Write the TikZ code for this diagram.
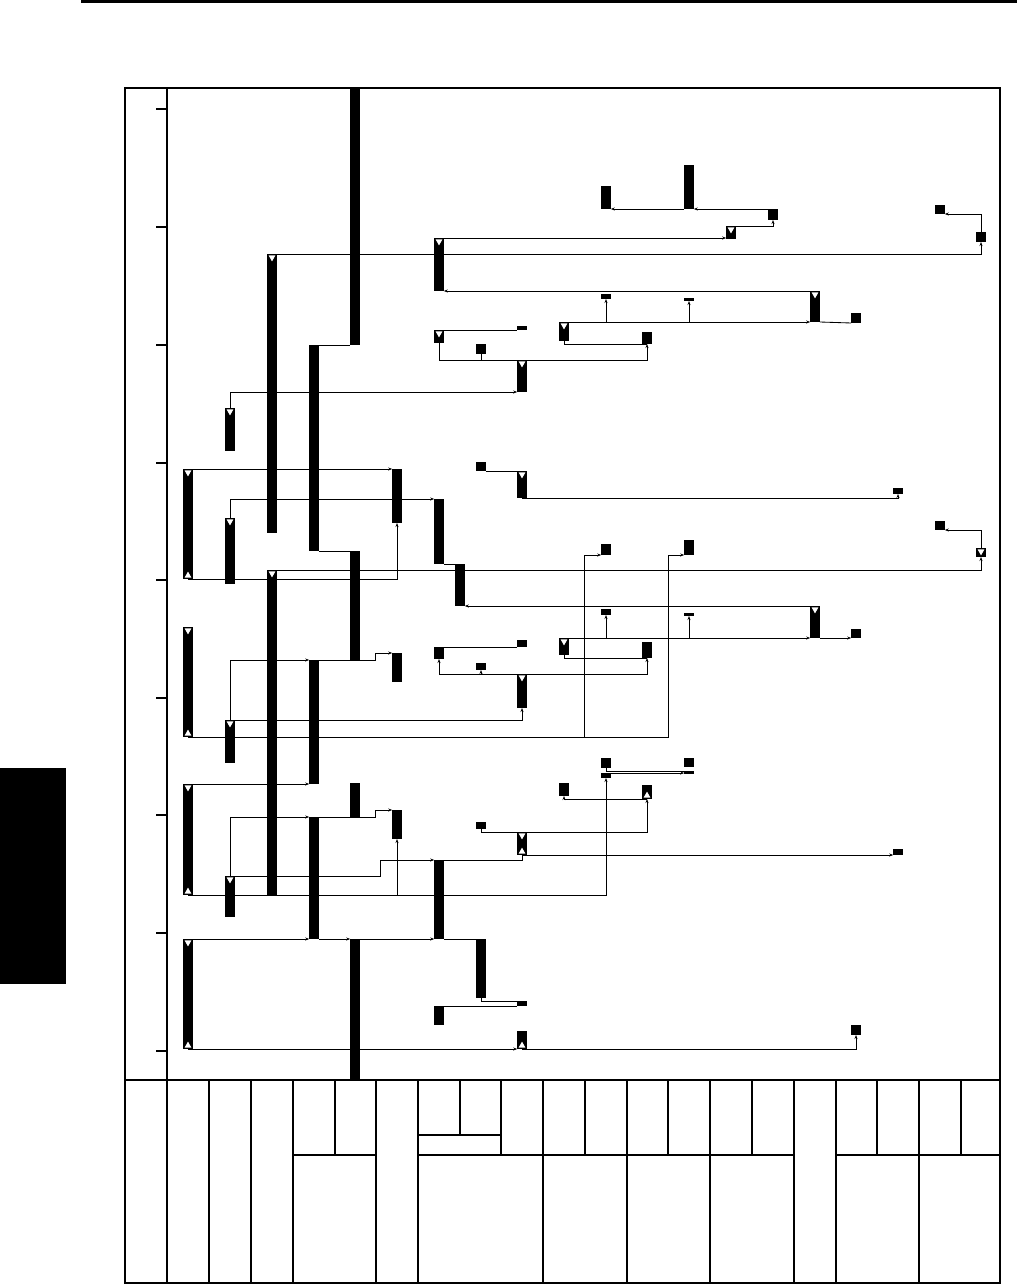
\documentclass[tikz,border=0pt]{standalone}
\usetikzlibrary{arrows.meta}
\tikzset{
 tbarn/.style={rectangle, fill=black, inner sep=0pt, outer sep=0pt, minimum width=9.6pt},
 conn/.style={line width=0.85pt},
 arr/.style={conn, -{Stealth[length=4pt,width=3pt]}},
 framel/.style={line width=2pt},
 gridl/.style={line width=1.2pt},
}
\newcommand{\mkbar}[4]{\node[tbarn, minimum height={(#4-#3)*1pt}] (#1) at (#2,{(#3+#4)/2}) {};}
\newcommand{\tridn}[1]{\fill[white] ([shift={(-3.4,1.4)}]#1.north) -- ++(6.8,0) -- ++(-3.4,6) -- cycle;}
\newcommand{\triup}[1]{\fill[white] ([shift={(-3.4,-1.4)}]#1.south) -- ++(6.8,0) -- ++(-3.4,-6) -- cycle;}
\begin{document}
\begin{tikzpicture}[x=1pt,y=-1pt]
\useasboundingbox (0,0) rectangle (1017,1287);
% page decorations
\draw[line width=3pt] (81,1.5) -- (1017,1.5);
\fill (0,768) rectangle (66,984);
% frame and axis
\draw[framel] (125,88) rectangle (1000,1283);
\draw[gridl] (167,88) -- (167,1283);
\foreach \y in {109,227,345,463,580,698,815,933,1051} \draw[gridl] (156,\y) -- (167,\y);
\draw[line width=1.6pt] (125,1080) -- (1000,1080);
\foreach \x in {209,251,293,376,418,543,627,710,794,836,919} \draw[gridl] (\x,1080) -- (\x,1283);
\foreach \x in {335,501,585,668,752,877,961} \draw[gridl] (\x,1080) -- (\x,1155);
\draw[gridl] (460,1080) -- (460,1135);
\draw[gridl] (418,1135) -- (501,1135);
\draw[gridl] (293,1155) -- (376,1155);
\draw[gridl] (418,1155) -- (794,1155);
\draw[gridl] (836,1155) -- (1000,1155);
% upper bars
\mkbar{a1}{355}{88}{345}
\mkbar{a2}{272}{254}{533}
\mkbar{a3}{314}{345}{551}
\mkbar{a4}{606}{186}{209}
\mkbar{a5}{689}{165}{209}
\mkbar{a6}{773}{209}{220}
\mkbar{a7}{731}{226}{239}
\mkbar{a8}{439}{238}{291}
\mkbar{a9}{940}{205}{214}
\mkbar{a10}{981}{232}{242}
\mkbar{a11}{815}{291}{322}
\mkbar{a12}{606}{294}{299}
\mkbar{a13}{689}{298}{301}
\mkbar{a14}{564}{322}{341}
\mkbar{a15}{856}{313}{323}
\mkbar{a16}{647}{332}{344}
\mkbar{a17}{439}{330}{343}
\mkbar{a18}{522}{326}{330}
\mkbar{a19}{481}{344}{354}
\mkbar{a20}{522}{360}{392}
\mkbar{a21}{230}{408}{451}
% middle bars
\mkbar{b1}{188}{469}{579}
\mkbar{b2}{397}{469}{523}
\mkbar{b3}{230}{518}{584}
\mkbar{b4}{439}{499}{564}
\mkbar{b5}{355}{551}{660}
\mkbar{b6}{460}{564}{606}
\mkbar{b7}{272}{570}{895}
\mkbar{b8}{981}{548}{557}
\mkbar{b9}{940}{521}{530}
\mkbar{b10}{481}{462}{471}
\mkbar{b11}{522}{471}{498}
\mkbar{b12}{898}{488}{494}
\mkbar{b13}{606}{544}{555}
\mkbar{b14}{689}{540}{555}
\mkbar{b15}{815}{606}{638}
\mkbar{b16}{606}{609}{615}
\mkbar{b17}{689}{613}{616}
\mkbar{b18}{564}{638}{655}
\mkbar{b19}{856}{629}{638}
\mkbar{b20}{647}{642}{658}
\mkbar{b21}{439}{647}{659}
\mkbar{b22}{522}{640}{647}
\mkbar{b23}{481}{663}{670}
\mkbar{b24}{522}{674}{708}
\mkbar{b25}{230}{720}{763}
\mkbar{b26}{314}{660}{784}
\mkbar{b27}{397}{653}{682}
\mkbar{b28}{188}{627}{737}
% lower bars
\mkbar{c1}{188}{784}{895}
\mkbar{c2}{314}{817}{939}
\mkbar{c3}{355}{783}{817}
\mkbar{c4}{397}{810}{839}
\mkbar{c5}{230}{876}{917}
\mkbar{c6}{439}{860}{939}
\mkbar{c7}{522}{832}{855}
\mkbar{c8}{898}{849}{855}
\mkbar{c9}{481}{822}{829}
\mkbar{c10}{647}{785}{799}
\mkbar{c11}{564}{783}{796}
\mkbar{c12}{606}{758}{768}
\mkbar{c13}{606}{773}{778}
\mkbar{c14}{689}{758}{767}
\mkbar{c15}{689}{771}{774}
% bottom bars
\mkbar{d1}{188}{939}{1049}
\mkbar{d2}{355}{939}{1080}
\mkbar{d3}{481}{939}{998}
\mkbar{d4}{522}{1001}{1006}
\mkbar{d5}{439}{1006}{1025}
\mkbar{d6}{522}{1031}{1049}
\mkbar{d7}{856}{1025}{1035}
% triangles
\foreach \n in {a2,a7,a8,a11,a14,a17,a20,a21,b1,b3,b7,b8,b11,b15,b18,b24,b25,b28,c1,c5,c7,d1} {\tridn{\n}}
\foreach \n in {b1,b28,c1,c7,c10,d1,d6} {\triup{\n}}
% upper connectors
\draw[conn] (a3.north east) -- (a1.south west);
\draw[arr] (a6.north west) -- (a5.south east);
\draw[arr] (a5.south west) -- (a4.south east);
\draw[arr] (a7.north east) -| (a6.south);
\draw[arr] (a8.north) -- (a8.north -| a7.west);
\draw[arr] (a2.north) -| (a10.south);
\draw[arr] (a10.north) |- (a9.south east);
\draw[arr] (a11.north west) -- (a8.south east);
\draw[arr] (a14.north) -- (a14.north -| a11.west);
\draw[arr] (a14.north -| a12.south) -- (a12.south);
\draw[arr] (a14.north -| a13.south) -- (a13.south);
\draw[conn] (a11.south east) -- (a15.south west);
\draw[conn] (a14.south) |- (a16.south);
\draw[conn] (a17.north) -- (a18.south west);
\draw[conn] (a20.north) -| (a17.south);
\draw[arr] (a20.north) -| (a16.south);
\draw[conn] (a20.north -| a19.south) -- (a19.south);
\draw[arr] (a21.north) |- (a20.south west);
% middle connectors
\draw[arr] (b1.north) -- (b2.north west);
\draw[arr] (b1.south) -| (b2.south);
\draw[arr] (b3.north) |- (b4.north west);
\draw[conn] (a3.south east) -- (b5.north west);
\draw[conn] (b4.south east) -- (b6.north west);
\draw[arr] (b7.north) -| (b8.south);
\draw[arr] (b8.north) |- (b9.south east);
\draw[conn] (b10.south east) -- (b11.north);
\draw[arr] (b11.south) -| (b12.south);
\coordinate (k1) at (584,737);
\coordinate (k2) at (668,737);
\draw[arr] (b28.south) -- (k2) |- (b14.south west);
\draw[arr] (k1) |- (b13.south west);
\draw[arr] (b15.north west) -- (b6.south east);
\draw[arr] (b18.north) -- (b18.north -| b15.west);
\draw[arr] (b18.north -| b16.south) -- (b16.south);
\draw[arr] (b18.north -| b17.south) -- (b17.south);
\draw[arr] (b15.south east) -- (b19.south west);
\draw[conn] (b18.south) |- (b20.south);
\draw[conn] (b21.north east) -- (b22.south west);
\draw[arr] (b24.north) -| (b21.south);
\draw[arr] (b24.north) -| (b20.south);
\draw[arr] (b24.north -| b23.south) -- (b23.south);
\draw[arr] (b25.north) -| (b24.south);
\draw[arr] (b25.north) |- (b26.north west);
\coordinate (j1) at (375,660);
\draw[arr] (b26.north east) -- (j1) |- (b27.north west);
% lower connectors
\draw[arr] (c1.north) -- (b26.south west);
\draw[arr] (c5.north) |- (c2.north west);
\coordinate (j2) at (375,817);
\draw[arr] (c2.north east) -- (j2) |- (c4.north west);
\draw[arr] (c1.south) -| (c13.south);
\draw[arr] (c1.south -| c4.south) -- (c4.south);
\coordinate (j3) at (380,876);
\draw[arr] (c5.north) -- (j3) |- (c6.north west);
\draw[conn] (c6.north east) -| (c7.south);
\draw[arr] (c7.south) -- (c7.south -| c8.west);
\draw[conn] (c7.north) -| (c9.south);
\draw[arr] (c7.north) -| (c10.south);
\draw[arr] (c10.south) -| (c11.south);
\draw[conn] (c12.south) |- (c15.north east);
\draw[arr] (c13.north east) -- (c13.north east -| c15.west);
% bottom connectors
\draw[arr] (d1.north) -- (c2.south west);
\draw[arr] (c2.south east) -- (d2.north west);
\draw[arr] (d2.north east) -- (c6.south west);
\draw[conn] (c6.south east) -- (d3.north west);
\draw[conn] (d3.south) |- (d4.north west);
\draw[conn] (d5.north east) -- (d4.south west);
\draw[arr] (d1.south) -- (d6.south west);
\draw[arr] (d6.south) -| (d7.south);
\end{tikzpicture}
\end{document}
